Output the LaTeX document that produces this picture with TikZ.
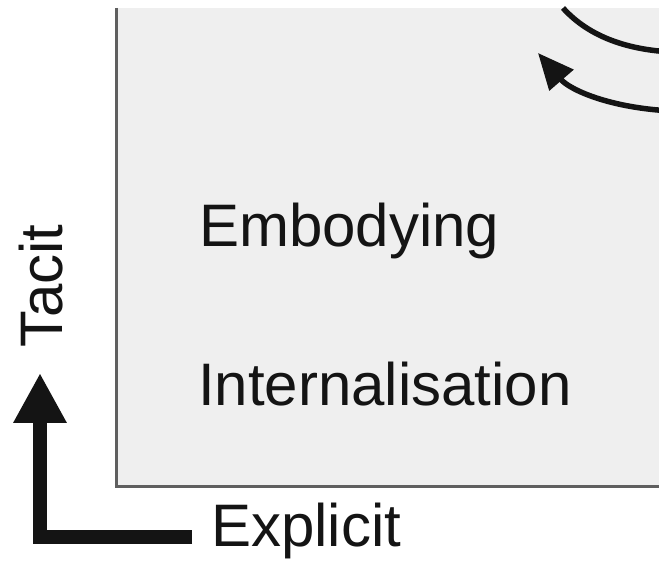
\documentclass[tikz,border=0pt]{standalone}
\usepackage{fontspec}
\setmainfont{Liberation Sans}
\usetikzlibrary{arrows.meta}
\definecolor{boxgray}{RGB}{239,239,239}
\definecolor{edgegray}{RGB}{95,95,95}
\definecolor{inkblack}{RGB}{20,20,20}

\begin{document}
\begin{tikzpicture}[x=1pt,y=1pt,
  label text/.style={inner sep=0pt, anchor=base west, text=inkblack,
    font=\fontsize{60}{62}\selectfont},
  cycle arc/.style={line width=5.5pt, draw=inkblack},
  axis line/.style={line width=14pt, draw=inkblack, line join=miter, line cap=butt}]

% Frame
\useasboundingbox (0,0) rectangle (659,560);
\clip (0,0) rectangle (659,560);

% Background box (cut off at top and right)
\fill[boxgray] (116,73) rectangle (670,552);
\draw[edgegray, line width=3pt] (116,552) -- (116,73) -- (670,73);

% Cycle arcs
\draw[cycle arc] (563,552) .. controls (590,522) and (630,510) .. (672,508);
\coordinate (arcstart) at (672,449);
\coordinate (arctip) at (538,507);
\draw[cycle arc, -{Triangle[length=36pt,width=31pt]}]
  (arcstart) .. controls (610,452) and (570,470) .. (arctip);

% Labels
\node[label text] (embody) at (199,313) {Embodying};
\node[label text] (intern) at (198,154) {Internalisation};
\node[label text] (explicit) at (211,13) {Explicit};
\node[label text, rotate=90] (tacit) at (62,212) {Tacit};

% Axis arrow
\coordinate (axisend) at (192,23);
\coordinate (axiscorner) at (40,23);
\coordinate (axistip) at (40,187);
\draw[axis line, -{Triangle[length=50pt,width=50pt]}]
  (axisend) -- (axiscorner) -- (axistip);

\end{tikzpicture}
\end{document}
